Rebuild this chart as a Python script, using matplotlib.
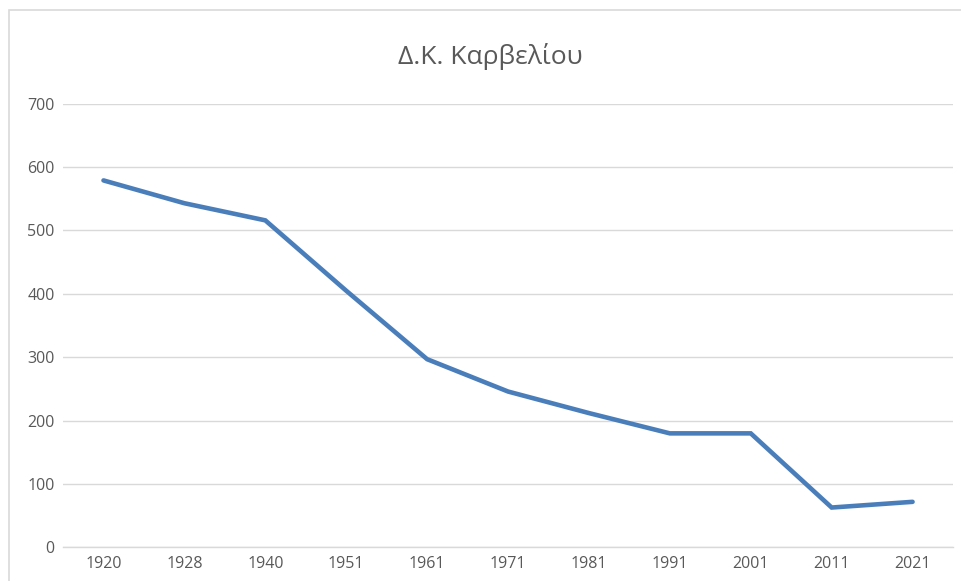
import matplotlib
matplotlib.use("Agg")
import matplotlib.pyplot as plt
from matplotlib.patches import Rectangle

# population of the local community by census year
years = ["1920", "1928", "1940", "1951", "1961", "1971", "1981", "1991", "2001", "2011", "2021"]
population = [579, 543, 516, 405, 297, 246, 212, 180, 180, 63, 72]
y_ticks = [0, 100, 200, 300, 400, 500, 600, 700]
title = "Δ.Κ. Καρβελίου"

plt.rcParams['font.family'] = ['Open Sans', 'DejaVu Sans']
grey_text = "#595959"
grid_col = "#D9D9D9"

fig = plt.figure(figsize=(9.61, 5.81), dpi=100)
ax = fig.add_axes([0.0656, 0.0577, 0.9261, 0.7638])

xs = range(len(years))
ax.plot(xs, population, color="#4A7EBB", lw=3.3, solid_joinstyle='miter', solid_capstyle='round', zorder=3)

ax.set_xlim(-0.5, len(years) - 0.5)
ax.set_ylim(0, 700)
ax.set_yticks(y_ticks)
ax.set_xticks(list(xs))
ax.set_xticklabels(years)

ax.grid(axis='y', color=grid_col, lw=1)
ax.set_axisbelow(True)
for side in ['top', 'right', 'left']:
    ax.spines[side].set_visible(False)
ax.spines['bottom'].set_color(grid_col)
ax.spines['bottom'].set_linewidth(1)

ax.tick_params(axis='both', length=0, labelsize=11.5, colors=grey_text)
ax.tick_params(axis='y', pad=6)
ax.tick_params(axis='x', pad=6)

fig.text(490 / 961, 1 - 56 / 581, title, ha='center', va='center', fontsize=19, color=grey_text)

# chart area border (Excel style), cut off at right and bottom
fig.patches.append(Rectangle((9 / 961, -0.05), 1.0, 1 - 10.5 / 581 + 0.05, transform=fig.transFigure,
                             fill=False, edgecolor=grid_col, lw=1.2))

fig.savefig("out.png", dpi=100)
